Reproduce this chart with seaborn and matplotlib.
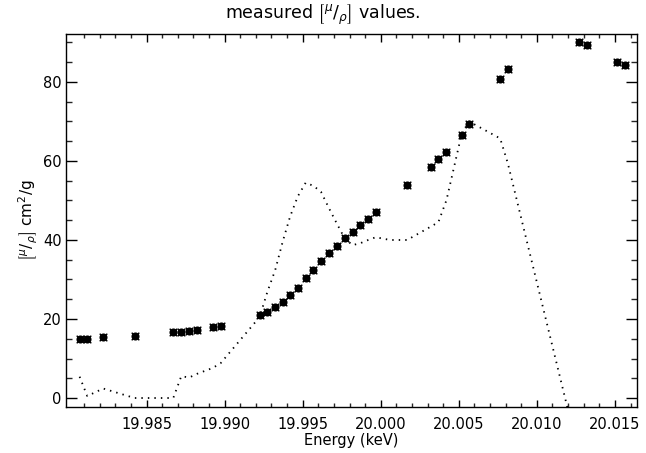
import numpy as np
import pandas as pd
import matplotlib
matplotlib.use("Agg")
import matplotlib.pyplot as plt
import seaborn as sns

# measured points
energy = [19.98071, 19.98120, 19.98222, 19.98423, 19.98671, 19.98722, 19.98774,
          19.98822, 19.98923, 19.98974, 19.99224, 19.99274, 19.99324, 19.99372,
          19.99419, 19.99468, 19.99519, 19.99569, 19.99617, 19.99669, 19.99718,
          19.99769, 19.99819, 19.99870, 19.99919, 19.99968, 20.00169, 20.00321,
          20.00369, 20.00421, 20.00519, 20.00566, 20.00765, 20.00814, 20.01267,
          20.01319, 20.01513, 20.01564]
mu_measured = [14.9, 14.9, 15.4, 15.8, 16.6, 16.8, 17.0, 17.2, 18.0, 18.2,
               20.9, 21.7, 23.0, 24.3, 26.1, 27.8, 30.3, 32.4, 34.7, 36.7,
               38.5, 40.5, 42.1, 43.8, 45.4, 47.0, 53.8, 58.6, 60.4, 62.3,
               66.7, 69.4, 80.7, 83.4, 90.0, 89.3, 85.1, 84.2]

# calculated curve (dotted)
energy_calc = [19.98071, 19.98120, 19.98222, 19.98423, 19.98671, 19.98722, 19.98774,
               19.98822, 19.98923, 19.98974, 19.99224, 19.99274, 19.99324, 19.99372,
               19.99419, 19.99468, 19.99519, 19.99569, 19.99617, 19.99669, 19.99718,
               19.99769, 19.99819, 19.99870, 19.99919, 19.99968, 20.00060, 20.00169,
               20.00321, 20.00369, 20.00421, 20.00519, 20.00566, 20.00765, 20.00814,
               20.01267]
mu_calc = [5.4, 0.5, 2.4, 0.0, 0.0, 5.5, 5.2, 6.1, 7.6, 8.8,
           20.5, 26.9, 32.4, 39.6, 45.9, 51.0, 54.5, 53.7, 52.2, 48.0,
           44.2, 40.4, 38.7, 39.2, 40.0, 40.7, 40.0, 40.0, 43.4, 44.5,
           50.1, 67.0, 70.0, 65.7, 59.4, -14.0]

xticks_major = [19.985, 19.990, 19.995, 20.000, 20.005, 20.010, 20.015]
xtick_labels = ["19.985", "19.990", "19.995", "20.000", "20.005", "20.010", "20.015"]
yticks_major = [0, 20, 40, 60, 80]

sns.set_theme(style="white")
plt.rcParams['font.family'] = ['DejaVu Sans']
plt.rcParams['mathtext.fontset'] = 'dejavusans'
plt.rcParams['text.color'] = 'black'
plt.rcParams['axes.labelcolor'] = 'black'

fig = plt.figure(figsize=(6.46, 4.53), dpi=100)
ax = fig.add_axes([0.1022, 0.1015, 0.8838, 0.8235])

df_m = pd.DataFrame({"E": energy, "mu": mu_measured})
df_c = pd.DataFrame({"E": energy_calc, "mu": mu_calc})

sns.lineplot(data=df_c, x="E", y="mu", ax=ax, color="black", lw=1.3,
             linestyle=(0, (0.8, 2.8)), sort=False, estimator=None)
sns.scatterplot(data=df_m, x="E", y="mu", ax=ax, color="black", marker="o",
                s=34, edgecolor="black", linewidth=0, zorder=3)
sns.scatterplot(data=df_m, x="E", y="mu", ax=ax, color="black", marker="x",
                s=30, linewidth=1.0, zorder=3)

ax.set_xlim(19.97984, 20.01641)
ax.set_ylim(-2.28, 92.15)
ax.set_xticks(xticks_major)
ax.set_xticklabels(xtick_labels)
ax.set_xticks(np.arange(19.981, 20.0165, 0.001), minor=True)
ax.set_yticks(yticks_major)
ax.set_yticks(np.arange(0, 92, 5), minor=True)

for s in ax.spines.values():
    s.set_color("black")
    s.set_linewidth(1.0)

ax.tick_params(axis="x", which="major", direction="in", length=5.4, width=1.0,
               top=True, bottom=True, labelsize=10.5, pad=7, colors="black")
ax.tick_params(axis="x", which="minor", direction="in", length=2.7, width=1.0,
               top=True, bottom=True)
ax.tick_params(axis="y", which="major", direction="in", length=8.2, width=1.0,
               left=True, right=True, labelsize=10.5, pad=3, colors="black")
ax.tick_params(axis="y", which="minor", direction="in", length=4.1, width=1.0,
               left=True, right=True)

ax.set_xlabel("Energy (keV)", fontsize=10.5, labelpad=1, color="black")
ax.set_ylabel(r"$\left[^{\mu}/_{\rho}\right]$ cm$^2$/g", fontsize=11,
              labelpad=2, color="black")
fig.suptitle(r"measured $\left[^{\mu}/_{\rho}\right]$ values.", x=0.5, y=0.995,
             fontsize=12.5, va="top", color="black")

fig.savefig("out.png", dpi=100)
